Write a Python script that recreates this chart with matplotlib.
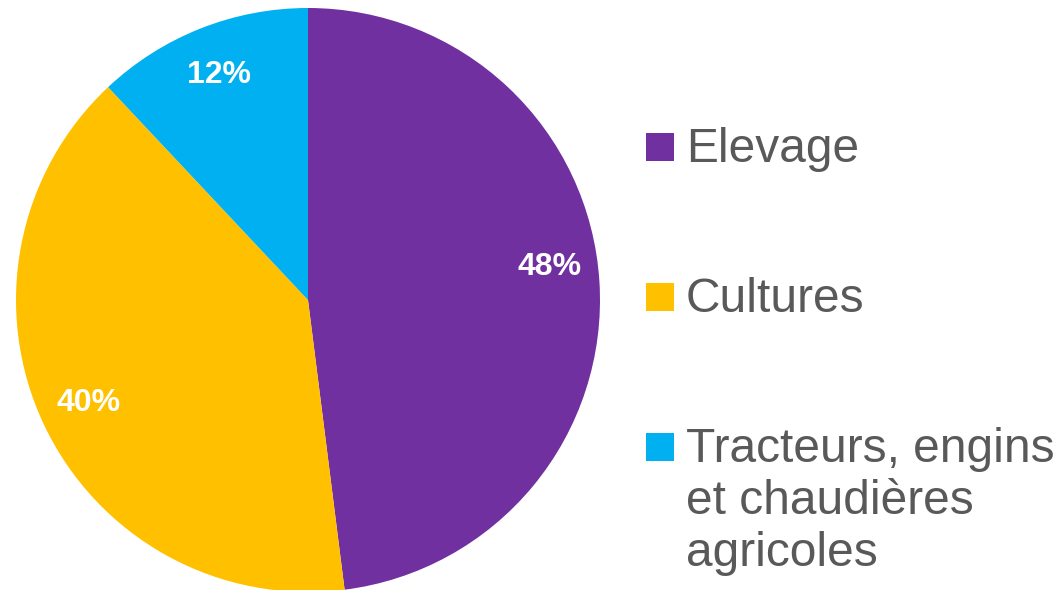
import matplotlib
matplotlib.use("Agg")
import matplotlib.pyplot as plt
from matplotlib.patches import Rectangle

categories = ["Elevage", "Cultures", "Tracteurs, engins\net chaudières\nagricoles"]
values = [48, 40, 12]
colors = ["#7030A0", "#FFC000", "#00B0F0"]

plt.rcParams['font.family'] = ['Liberation Sans', 'DejaVu Sans']

W, H = 1061, 590
fig = plt.figure(figsize=(W / 100, H / 100), dpi=100)

cx, cy, r = 308, 300, 292
ax = fig.add_axes([(cx - r) / W, (H - cy - r) / H, 2 * r / W, 2 * r / H])
wedges, texts, autotexts = ax.pie(
    values, colors=colors, startangle=90, counterclock=False,
    autopct='%1.0f%%', pctdistance=0.83, radius=1.0,
    wedgeprops=dict(linewidth=0),
    textprops=dict(color='white', fontsize=23, fontweight='bold'))
# small nudge of the first label (reference sits slightly higher)
x0, y0 = autotexts[0].get_position()
autotexts[0].set_position((x0, y0 + 0.06))
ax.set_xlim(-1, 1)
ax.set_ylim(-1, 1)
ax.set_aspect('equal')
ax.axis('off')

# manual legend
baselines = [162, 312, 462]
fs = 34.5
for lab, col, bl in zip(categories, colors, baselines):
    fig.patches.append(Rectangle((646 / W, (H - bl + 1) / H), 28 / W, 28 / H,
                                 transform=fig.transFigure, facecolor=col,
                                 edgecolor='none'))
    lines = lab.split("\n")
    for i, line in enumerate(lines):
        fig.text(686 / W, (H - bl - 52 * i) / H, line, fontsize=fs,
                 color='#595959', va='baseline', ha='left')

fig.savefig("out.png", dpi=100)
